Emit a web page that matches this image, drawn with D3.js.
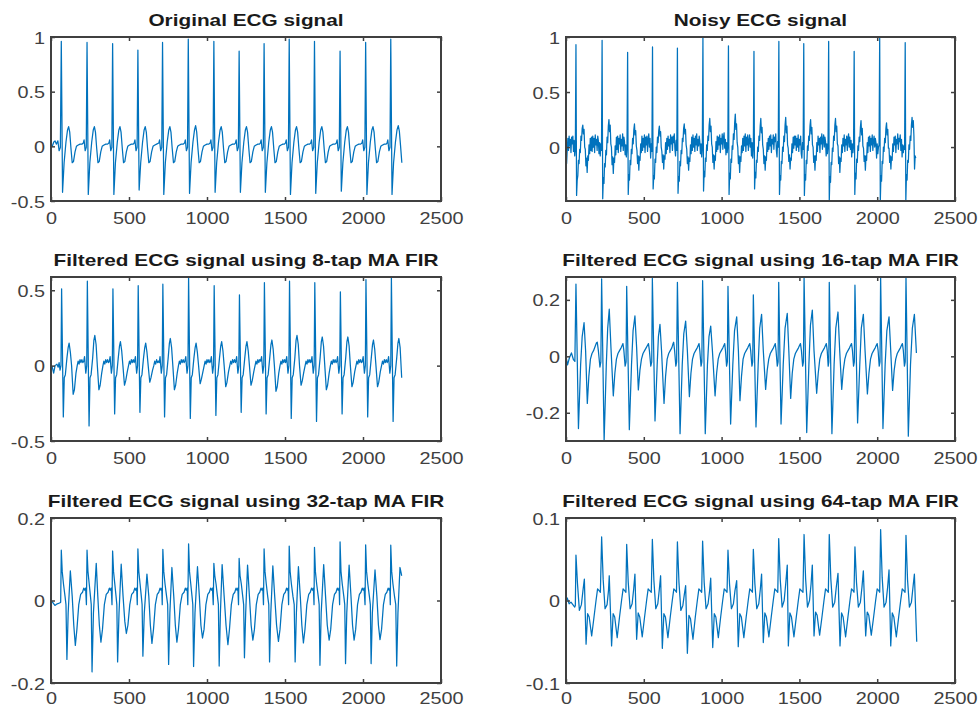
<!DOCTYPE html>
<html>
<head>
<meta charset="utf-8">
<script src="https://cdn.jsdelivr.net/npm/d3@7"></script>
<style>
  body { margin: 0; background: #fff; }
  #chart { width: 978px; height: 708px; }
</style>
</head>
<body>
<div id="chart"></div>
<script>
// ---- data (x = sample index, y = amplitude) ----
const xTicks = [0, 500, 1000, 1500, 2000, 2500];

const titles = [
  'Original ECG signal',
  'Noisy ECG signal',
  'Filtered ECG signal using 8-tap MA FIR',
  'Filtered ECG signal using 16-tap MA FIR',
  'Filtered ECG signal using 32-tap MA FIR',
  'Filtered ECG signal using 64-tap MA FIR'
];

const yDomains = [[-0.5, 1], [-0.49, 1.0], [-0.5, 0.588], [-0.30, 0.281], [-0.2, 0.2], [-0.1, 0.1]];
const yTicks = [[-0.5, 0, 0.5, 1], [0, 0.5, 1], [-0.5, 0, 0.5], [-0.2, 0, 0.2], [-0.2, 0, 0.2], [-0.1, 0, 0.1]];

const originalEcg = [
  [0,0],[8,0],[18,.04],[26,.05],[34,.02],[44,.05],[52,-.04],[60,-.01],
  [66,.96],[74,-.42],[84,-.15],[96,.04],[106,.15],[113,.18],[120,.13],[128,-.02],[136,-.15],[144,-.14],[154,-.05],[163,0],[172,.01],[186,.02],[198,.02],
  [207,.03],[212,.06],[219,-.04],[226,-.01],
  [231,.95],[239,-.44],[249,-.15],[261,.04],[271,.15],[278,.18],[285,.13],[293,-.02],[301,-.15],[309,-.14],[319,-.05],[328,0],[337,.01],[351,.02],[363,.02],
  [371,.03],[376,.06],[383,-.04],[390,-.01],
  [395,.94],[403,-.44],[413,-.15],[425,.04],[435,.15],[442,.18],[449,.13],[457,-.02],[465,-.15],[473,-.14],[483,-.05],[492,0],[501,.01],[515,.02],[527,.02],
  [533,.03],[538,.06],[545,-.04],[552,-.01],
  [557,.88],[565,-.40],[575,-.15],[587,.04],[597,.15],[604,.18],[611,.13],[619,-.02],[627,-.15],[635,-.14],[645,-.05],[654,0],[663,.01],[677,.02],
  [691,.03],[696,.06],[703,-.04],[710,-.01],
  [715,.95],[723,-.44],[733,-.15],[745,.04],[755,.15],[762,.18],[769,.13],[777,-.02],[785,-.15],[793,-.14],[803,-.05],[812,0],[821,.01],[835,.02],[847,.02],
  [856,.03],[861,.06],[868,-.04],[875,-.01],
  [880,.98],[888,-.43],[898,-.15],[910,.04],[920,.15],[927,.19],[934,.13],[942,-.02],[950,-.15],[958,-.14],[968,-.05],[977,0],[986,.01],[1000,.02],[1012,.02],
  [1020,.03],[1025,.06],[1032,-.04],[1039,-.01],
  [1044,.96],[1052,-.42],[1062,-.15],[1074,.04],[1084,.15],[1091,.18],[1098,.13],[1106,-.02],[1114,-.15],[1122,-.14],[1132,-.05],[1141,0],[1150,.01],[1164,.02],[1176,.02],
  [1182,.03],[1187,.06],[1194,-.04],[1201,-.01],
  [1206,.87],[1214,-.42],[1224,-.15],[1236,.04],[1246,.15],[1253,.18],[1260,.13],[1268,-.02],[1276,-.15],[1284,-.14],[1294,-.05],[1303,0],[1312,.01],[1326,.02],[1336,.02],
  [1342,.03],[1347,.06],[1354,-.04],[1361,-.01],
  [1366,.94],[1374,-.42],[1384,-.15],[1396,.04],[1406,.15],[1413,.18],[1420,.13],[1428,-.02],[1436,-.15],[1444,-.14],[1454,-.05],[1463,0],[1472,.01],[1486,.02],[1496,.02],
  [1503,.03],[1508,.06],[1515,-.04],[1522,-.01],
  [1527,.98],[1535,-.44],[1545,-.15],[1557,.04],[1567,.15],[1574,.18],[1581,.13],[1589,-.02],[1597,-.15],[1605,-.14],[1615,-.05],[1624,0],[1633,.01],[1647,.02],[1658,.02],
  [1665,.03],[1670,.06],[1677,-.04],[1684,-.01],
  [1689,.96],[1697,-.43],[1707,-.15],[1719,.04],[1729,.15],[1736,.18],[1743,.13],[1751,-.02],[1759,-.15],[1767,-.14],[1777,-.05],[1786,0],[1795,.01],[1809,.02],[1821,.02],
  [1829,.03],[1834,.06],[1841,-.04],[1848,-.01],
  [1853,.87],[1861,-.41],[1871,-.15],[1883,.04],[1893,.15],[1900,.18],[1907,.13],[1915,-.02],[1923,-.15],[1931,-.14],[1941,-.05],[1950,0],[1959,.01],[1973,.02],[1985,.02],
  [1993,.03],[1998,.06],[2005,-.04],[2012,-.01],
  [2017,.95],[2025,-.44],[2035,-.15],[2047,.04],[2057,.15],[2064,.18],[2071,.13],[2079,-.02],[2087,-.15],[2095,-.14],[2105,-.05],[2114,0],[2123,.01],[2137,.02],[2148,.02],
  [2154,.03],[2159,.06],[2166,-.04],[2173,-.01],
  [2178,.98],[2186,-.44],[2196,-.15],[2208,.04],[2218,.15],[2226,.19],[2233,.14],[2241,0],[2249,-.15]
];

// noisy signal, one value every 4 samples (one row per beat)
const noisyStep = 4;
const noisyEcg = [
  .02,-.15,-.02,.08,-.03,.1,.01,.07,-.05,.09,.03,.1,-.04,.06,-.08,-.02,
  .93,-.44,-.3,-.26,-.12,-.15,-.02,-.05,.1,.06,.17,.2,.12,.16,0,-.02,-.17,-.1,-.23,-.08,-.12,.02,-.06,.08,-.03,.09,-.04,.1,0,.08,-.05,.11,.02,.07,-.03,.1,.06,-.06,.04,-.08,.03,-.03,
  .97,-.47,-.28,-.33,-.15,-.18,-.03,-.07,.09,.04,.19,.25,.14,.2,.03,0,-.16,-.09,-.24,-.1,-.14,.01,-.07,.09,-.02,.1,-.05,.08,.03,.11,-.04,.07,.01,.12,-.03,.09,.05,-.07,.02,-.09,.01,
  .86,-.43,-.25,-.3,-.12,-.16,-.02,-.06,.08,.03,.16,.21,.11,.15,.01,-.03,-.15,-.08,-.21,-.09,-.12,.03,-.05,.1,-.03,.08,0,.11,-.05,.09,.02,.1,-.04,.07,.12,0,.08,-.1,.03,-.04,
  .91,-.38,-.26,-.29,-.11,-.14,0,-.05,.09,.04,.15,.19,.1,.14,0,-.04,-.14,-.07,-.2,-.08,-.11,.04,-.06,.08,-.02,.1,.01,.07,-.05,.11,.03,.09,-.03,.1,.04,.12,-.02,-.08,.06,-.03,
  .9,-.42,-.27,-.31,-.13,-.17,-.03,-.06,.08,.05,.17,.21,.12,.16,.02,-.02,-.15,-.09,-.21,-.1,-.13,.02,-.06,.09,-.03,.11,0,.08,-.04,.1,.02,.12,-.03,.07,.01,.1,.05,-.06,.03,-.09,0,
  1.0,-.4,-.22,-.27,-.1,-.13,.02,-.03,.1,.06,.2,.26,.14,.19,.03,0,-.14,-.07,-.2,-.08,-.12,.05,-.04,.1,-.02,.09,.02,.11,-.05,.08,.03,.12,-.02,.09,.13,-.01,.07,-.07,.04,-.05,.01,
  .92,-.43,-.24,-.29,-.11,-.14,.01,-.02,.12,.07,.22,.3,.16,.21,.04,0,-.15,-.08,-.23,-.09,-.13,.01,-.05,.08,-.03,.1,.01,.12,-.04,.09,.02,.11,-.03,.06,.11,0,.08,-.08,.04,-.1,.01,
  .87,-.38,-.23,-.28,-.12,-.14,0,-.04,.1,.06,.19,.26,.13,.18,.02,-.02,-.15,-.08,-.21,-.09,-.12,.04,-.04,.08,-.02,.1,.01,.11,-.05,.07,.03,.11,-.02,.09,.05,.12,-.03,-.09,.05,0,
  .96,-.43,-.26,-.3,-.13,-.15,0,-.04,.1,.05,.2,.27,.13,.19,.02,-.01,-.13,-.07,-.2,-.1,-.12,.03,-.05,.09,-.01,.1,.02,.1,-.03,.08,0,.11,-.04,.07,.02,.1,-.06,-.1,.04,-.02,
  .94,-.44,-.25,-.3,-.12,-.15,.01,-.03,.1,.06,.19,.25,.12,.18,.02,0,-.14,-.08,-.21,-.08,-.12,.04,-.04,.1,.02,.08,-.05,.09,.03,.12,-.02,.07,.11,0,.09,.05,-.08,.03,-.06,.01,
  .96,-.49,-.27,-.32,-.14,-.16,-.01,-.04,.1,.06,.2,.26,.14,.19,.03,.01,-.15,-.09,-.23,-.1,-.13,.02,-.05,.08,.01,.11,-.04,.07,.02,.1,-.03,.08,.12,0,.09,-.02,.06,-.09,.03,-.05,.01,
  .87,-.43,-.24,-.29,-.11,-.14,.01,-.03,.09,.05,.18,.24,.11,.17,.01,-.01,-.13,-.08,-.21,-.08,-.12,.04,-.05,.09,.01,.1,-.04,.08,.02,.11,-.03,.06,.1,0,.08,.04,-.1,.03,-.06,0,.02,
  1.0,-.49,-.26,-.31,-.13,-.15,0,-.04,.08,.04,.17,.22,.11,.16,-.01,-.01,-.14,-.08,-.2,-.09,-.12,.03,-.04,.09,.02,.1,-.05,.07,.03,.12,-.02,.08,.05,.11,-.03,.07,-.09,.02,-.05,.01,-.02,
  .95,-.49,-.25,-.3,-.12,-.14,.02,-.02,.1,.06,.2,.27,.18,.24,.1,-.2,-.08,-.1
];

const ma8Ecg = [
  [0,0],[8,-.01],[17,-.05],[26,0],[38,.01],[46,-.01],[52,.02],[58,-.03],[64,0],
  [68,.51],[79,-.34],[85,-.08],[92,-.06],[102,.05],[110,.12],[116,.15],[124,.09],[132,0],[142,-.19],[150,-.16],[160,-.05],[168,0],[174,.03],[180,.01],[186,.04],[192,.02],[198,.04],[204,.02],[210,.03],[215,.06],[223,-.05],[229,0],
  [233,.56],[244,-.40],[250,-.08],[257,-.06],[267,.05],[275,.17],[281,.20],[289,.14],[297,0],[307,-.16],[315,-.13],[325,-.05],[333,0],[339,.03],[345,.01],[351,.04],[357,.02],[363,.04],[369,.02],[374,.03],[379,.06],[387,-.05],[393,0],
  [397,.51],[408,-.32],[414,-.08],[421,-.06],[431,.05],[439,.13],[445,.16],[453,.10],[461,0],[471,-.13],[479,-.10],[489,-.04],[497,0],[503,.03],[509,.01],[515,.04],[521,.02],[527,.04],[533,.02],[536,.03],[541,.06],[549,-.05],[555,0],
  [559,.53],[570,-.31],[576,-.08],[583,-.06],[593,.05],[601,.12],[607,.15],[615,.09],[623,0],[633,-.11],[641,-.08],[651,-.03],[659,0],[665,.03],[671,.01],[677,.04],[683,.02],[689,.03],[694,.02],[699,.06],[707,-.05],[713,0],
  [717,.54],[728,-.34],[734,-.08],[741,-.06],[751,.05],[759,.15],[765,.18],[773,.12],[781,0],[791,-.16],[799,-.13],[809,-.05],[817,0],[823,.03],[829,.01],[835,.04],[841,.02],[847,.04],[853,.02],[858,.03],[864,.06],[872,-.05],[878,0],
  [882,.588],[893,-.35],[899,-.08],[906,-.06],[916,.05],[924,.12],[930,.15],[938,.09],[946,0],[956,-.12],[964,-.09],[974,-.04],[982,0],[988,.03],[994,.01],[1000,.04],[1006,.02],[1012,.04],[1018,.02],[1023,.03],[1028,.06],[1036,-.05],[1042,0],
  [1046,.53],[1057,-.33],[1063,-.08],[1070,-.06],[1080,.05],[1088,.13],[1094,.16],[1102,.10],[1110,0],[1120,-.14],[1128,-.11],[1138,-.04],[1146,0],[1152,.03],[1158,.01],[1164,.04],[1170,.02],[1176,.04],[1182,.02],[1185,.03],[1190,.06],[1198,-.05],[1204,0],
  [1208,.47],[1219,-.31],[1225,-.08],[1232,-.06],[1242,.05],[1250,.13],[1256,.16],[1264,.10],[1272,0],[1282,-.13],[1290,-.10],[1300,-.04],[1308,0],[1314,.03],[1320,.01],[1326,.04],[1332,.02],[1338,.04],[1344,.03],[1350,.06],[1358,-.05],[1364,0],
  [1368,.55],[1379,-.32],[1385,-.08],[1392,-.06],[1402,.05],[1410,.14],[1416,.17],[1424,.11],[1432,0],[1442,-.17],[1450,-.14],[1460,-.05],[1468,0],[1474,.03],[1480,.01],[1486,.04],[1492,.02],[1498,.04],[1504,.02],[1511,.06],[1519,-.05],[1525,0],
  [1529,.56],[1540,-.35],[1546,-.08],[1553,-.06],[1563,.05],[1571,.17],[1577,.20],[1585,.14],[1593,0],[1603,-.13],[1611,-.10],[1621,-.04],[1629,0],[1635,.03],[1641,.01],[1647,.04],[1653,.02],[1659,.04],[1665,.02],[1668,.03],[1673,.06],[1681,-.05],[1687,0],
  [1691,.55],[1702,-.37],[1708,-.08],[1715,-.06],[1725,.05],[1733,.16],[1739,.19],[1747,.13],[1755,0],[1765,-.16],[1773,-.13],[1783,-.05],[1791,0],[1797,.03],[1803,.01],[1809,.04],[1815,.02],[1821,.04],[1827,.02],[1832,.03],[1837,.06],[1845,-.05],[1851,0],
  [1855,.49],[1866,-.32],[1872,-.08],[1879,-.06],[1889,.05],[1897,.16],[1903,.19],[1911,.13],[1919,0],[1929,-.14],[1937,-.11],[1947,-.04],[1955,0],[1961,.03],[1967,.01],[1973,.04],[1979,.02],[1985,.04],[1991,.02],[1996,.03],[2001,.06],[2009,-.05],[2015,0],
  [2019,.57],[2030,-.34],[2036,-.08],[2043,-.06],[2053,.05],[2061,.14],[2067,.17],[2075,.11],[2083,0],[2093,-.14],[2101,-.11],[2111,-.04],[2119,0],[2125,.03],[2131,.01],[2137,.04],[2143,.02],[2149,.04],[2155,.02],[2159,.03],[2164,.06],[2172,-.05],[2178,0],
  [2182,.585],[2193,-.37],[2199,-.08],[2206,-.06],[2216,.05],[2224,.15],[2230,.18],[2238,.12],[2248,-.08]
];

const ma16Ecg = [
  [0,0],[10,-.03],[22,-.005],[35,.012],[48,-.012],[57,-.018],
  [64,.256],[80,-.256],[94,-.03],[104,.07],[116,.119],[126,.02],[137,-.167],[147,-.07],[157,-.01],[167,.01],[177,.02],[187,.035],[196,.048],[201,.05],[208,.02],[218,-.038],[224,-.02],
  [229,.274],[245,-.30],[259,-.03],[268,.1],[278,.167],[289,.03],[304,-.14],[314,-.06],[324,-.01],[334,.01],[344,.02],[354,.03],[362,.04],[366,.045],[372,.02],[380,-.035],[386,-.02],
  [390,.248],[407,-.26],[421,-.03],[431,.09],[443,.143],[454,.03],[465,-.119],[475,-.05],[485,-.01],[495,.01],[505,.02],[515,.03],[525,.04],[530,.045],[536,.02],[545,-.035],[551,-.02],
  [555,.276],[572,-.229],[586,-.03],[594,.07],[604,.113],[614,.02],[630,-.167],[640,-.07],[650,-.01],[660,.01],[670,.02],[680,.03],[688,.045],[692,.05],[698,.02],[706,-.035],[711,-.02],
  [716,.262],[733,-.274],[747,-.03],[757,.08],[769,.125],[780,.02],[793,-.143],[803,-.06],[813,-.01],[823,.01],[833,.02],[843,.03],[851,.04],[855,.045],[860,.02],[868,-.035],[873,-.02],
  [878,.268],[895,-.274],[909,-.03],[919,.07],[930,.107],[941,.02],[958,-.14],[968,-.06],[978,-.01],[988,.01],[998,.02],[1008,.03],[1016,.04],[1020,.045],[1025,.02],[1032,-.035],[1037,-.02],
  [1041,.248],[1058,-.24],[1072,-.03],[1083,.09],[1097,.14],[1108,.02],[1118,-.157],[1128,-.07],[1138,-.01],[1148,.01],[1158,.02],[1168,.03],[1176,.04],[1181,.045],[1187,.02],[1195,-.035],[1200,-.02],
  [1204,.218],[1221,-.25],[1235,-.03],[1245,.1],[1257,.149],[1268,.02],[1283,-.117],[1293,-.05],[1303,-.01],[1313,.01],[1323,.02],[1333,.03],[1341,.04],[1345,.045],[1350,.02],[1358,-.035],[1363,-.02],
  [1367,.262],[1382,-.24],[1396,-.03],[1408,.1],[1422,.152],[1432,.02],[1444,-.149],[1454,-.06],[1464,-.01],[1474,.01],[1484,.02],[1494,.03],[1502,.04],[1507,.045],[1513,.02],[1521,-.035],[1526,-.02],
  [1530,.281],[1547,-.27],[1561,-.03],[1571,.11],[1583,.164],[1594,.02],[1611,-.131],[1621,-.06],[1631,-.01],[1641,.01],[1651,.02],[1661,.03],[1669,.04],[1673,.045],[1679,.02],[1685,-.035],[1689,-.02],
  [1692,.262],[1709,-.274],[1723,-.03],[1734,.1],[1748,.157],[1759,.02],[1772,-.117],[1782,-.05],[1792,-.01],[1802,.01],[1812,.02],[1822,.03],[1830,.04],[1835,.045],[1841,.02],[1848,-.035],[1853,-.02],
  [1857,.252],[1874,-.236],[1888,-.03],[1898,.1],[1911,.149],[1922,.02],[1937,-.133],[1947,-.06],[1957,-.01],[1967,.01],[1977,.02],[1987,.03],[1995,.04],[2000,.045],[2006,.02],[2013,-.035],[2018,-.02],
  [2022,.281],[2037,-.256],[2051,-.03],[2062,.09],[2076,.14],[2087,.02],[2099,-.121],[2109,-.05],[2119,-.01],[2129,.01],[2139,.02],[2149,.03],[2157,.04],[2162,.045],[2168,.02],[2175,-.035],[2180,-.02],
  [2185,.281],[2200,-.283],[2214,-.03],[2226,.1],[2239,.149],[2252,.012]
];

const ma32Ecg = [
  [0,0],[12,-.005],[25,-.012],[40,-.008],[55,-.006],[62,-.004],
  [66,.122],[72,.07],[80,.04],[90,.01],[96,-.01],[102,-.143],[110,-.03],[124,.072],[136,.01],[146,-.06],[156,-.109],[166,-.07],[178,-.01],[190,.015],[202,.02],[210,.03],[216,.025],[222,.03],[227,-.01],
  [231,.122],[237,.07],[245,.04],[253,.01],[258,-.01],[263,-.173],[272,-.03],[290,.09],[300,.01],[310,-.06],[320,-.101],[330,-.07],[342,-.01],[354,.015],[366,.02],[374,.03],[380,.025],[386,.03],[391,-.01],
  [395,.12],[401,.07],[409,.04],[417,.01],[422,-.01],[427,-.149],[436,-.03],[450,.088],[462,.01],[473,-.05],[483,-.08],[493,-.06],[505,-.01],[517,.015],[529,.02],[537,.03],[543,.025],[549,.03],[553,-.01],
  [557,.125],[563,.07],[571,.04],[579,.01],[584,-.01],[589,-.135],[598,-.03],[615,.064],[627,.01],[637,-.06],[647,-.104],[657,-.07],[669,-.01],[681,.015],[691,.02],[699,.03],[705,.025],[710,.03],[713,-.01],
  [717,.124],[723,.07],[731,.04],[741,.01],[748,-.01],[754,-.155],[762,-.03],[775,.08],[787,.01],[797,-.06],[807,-.101],[817,-.07],[829,-.01],[841,.015],[853,.02],[861,.03],[867,.025],[873,.03],[877,-.01],
  [882,.137],[888,.07],[896,.04],[904,.01],[909,-.01],[914,-.16],[923,-.03],[939,.082],[951,.01],[961,-.06],[971,-.091],[981,-.07],[993,-.01],[1005,.015],[1015,.02],[1023,.03],[1029,.025],[1035,.03],[1040,-.01],
  [1044,.09],[1050,.06],[1058,.04],[1067,.01],[1073,-.01],[1078,-.159],[1086,-.03],[1097,.087],[1110,.01],[1122,-.06],[1134,-.107],[1144,-.07],[1156,-.01],[1168,.015],[1178,.02],[1186,.03],[1192,.025],[1198,.03],[1202,-.01],
  [1206,.102],[1212,.06],[1220,.04],[1229,.01],[1235,-.01],[1240,-.139],[1248,-.03],[1260,.086],[1272,.01],[1283,-.06],[1294,-.096],[1304,-.07],[1316,-.01],[1328,.015],[1338,.02],[1346,.03],[1352,.025],[1358,.03],[1362,-.01],
  [1366,.125],[1372,.07],[1380,.04],[1389,.01],[1396,-.01],[1401,-.149],[1409,-.03],[1422,.084],[1434,.01],[1446,-.06],[1458,-.099],[1468,-.07],[1480,-.01],[1492,.015],[1502,.02],[1510,.03],[1515,.025],[1520,.03],[1523,-.01],
  [1527,.132],[1533,.07],[1541,.04],[1551,.01],[1559,-.01],[1565,-.149],[1573,-.03],[1586,.082],[1598,.01],[1608,-.06],[1618,-.103],[1628,-.07],[1640,-.01],[1652,.015],[1662,.02],[1670,.03],[1676,.025],[1682,.03],[1686,-.01],
  [1689,.129],[1695,.07],[1703,.04],[1713,.01],[1719,-.01],[1724,-.157],[1732,-.03],[1748,.087],[1760,.01],[1771,-.06],[1783,-.096],[1793,-.07],[1805,-.01],[1817,.015],[1827,.02],[1835,.03],[1841,.025],[1847,.03],[1850,-.01],
  [1853,.142],[1859,.07],[1867,.04],[1877,.01],[1883,-.01],[1888,-.153],[1896,-.03],[1911,.086],[1923,.01],[1933,-.06],[1943,-.096],[1953,-.07],[1965,-.01],[1977,.015],[1987,.02],[1995,.03],[2001,.025],[2007,.03],[2013,-.01],
  [2017,.135],[2023,.07],[2031,.04],[2041,.01],[2047,-.01],[2052,-.153],[2060,-.03],[2077,.074],[2089,.01],[2099,-.06],[2109,-.095],[2119,-.07],[2131,-.01],[2143,.015],[2153,.02],[2161,.03],[2167,.025],[2172,.03],[2175,-.01],
  [2178,.134],[2184,.07],[2192,.04],[2202,.01],[2210,-.01],[2216,-.159],[2224,-.03],[2237,.08],[2248,.06]
];

const ma64Ecg = [
  [0,0],[8,.003],[20,-.004],[32,-.002],[44,-.005],[56,-.008],[60,-.006],
  [64,.055],[74,.02],[86,-.012],[99,-.005],[109,.012],[118,.026],[129,-.053],[139,-.016],[149,-.02],[165,-.043],[180,-.02],[193,0],[203,.014],[213,.012],[221,.01],
  [229,.077],[239,.025],[251,-.01],[264,-.005],[273,.012],[278,.03],[293,-.055],[303,-.016],[313,-.02],[329,-.045],[344,-.02],[357,0],[367,.014],[377,.012],[385,.01],
  [390,.068],[400,.022],[412,-.01],[425,-.004],[435,.014],[443,.032],[454,-.047],[464,-.015],[474,-.02],[490,-.044],[505,-.02],[518,0],[528,.014],[538,.012],[548,.01],
  [555,.074],[565,.024],[577,-.01],[590,-.004],[600,.014],[608,.03],[619,-.058],[629,-.016],[639,-.02],[655,-.045],[670,-.02],[683,0],[693,.014],[703,.012],[710,.01],
  [716,.071],[726,.022],[738,-.012],[751,-.006],[761,.008],[769,.018],[780,-.064],[790,-.018],[800,-.022],[816,-.047],[831,-.02],[844,0],[854,.014],[864,.012],[872,.01],
  [878,.072],[888,.022],[900,-.01],[913,-.004],[923,.012],[930,.027],[943,-.057],[953,-.016],[963,-.02],[979,-.045],[994,-.02],[1007,0],[1017,.014],[1027,.012],[1035,.01],
  [1041,.061],[1051,.02],[1063,-.01],[1076,-.004],[1086,.012],[1097,.024],[1107,-.056],[1117,-.016],[1127,-.02],[1143,-.045],[1158,-.02],[1171,0],[1181,.014],[1191,.012],[1198,.01],
  [1204,.062],[1214,.02],[1226,-.01],[1239,-.004],[1249,.014],[1257,.032],[1268,-.051],[1278,-.015],[1288,-.02],[1304,-.044],[1319,-.02],[1332,0],[1342,.014],[1352,.012],[1361,.01],
  [1367,.075],[1377,.025],[1389,-.008],[1402,0],[1412,.02],[1422,.043],[1429,-.055],[1439,-.015],[1449,-.02],[1465,-.044],[1480,-.02],[1493,0],[1503,.014],[1513,.012],[1523,.01],
  [1530,.08],[1540,.026],[1552,-.008],[1565,0],[1575,.02],[1583,.043],[1594,-.043],[1604,-.014],[1614,-.018],[1630,-.042],[1645,-.02],[1658,0],[1668,.014],[1678,.012],[1686,.01],
  [1692,.08],[1702,.026],[1714,-.008],[1727,-.002],[1737,.016],[1748,.033],[1761,-.055],[1771,-.015],[1781,-.02],[1797,-.044],[1812,-.02],[1825,0],[1835,.014],[1845,.012],[1851,.01],
  [1857,.065],[1867,.022],[1879,-.008],[1892,-.002],[1902,.016],[1911,.036],[1926,-.043],[1936,-.014],[1946,-.018],[1962,-.042],[1977,-.02],[1990,0],[2000,.014],[2010,.012],[2016,.01],
  [2022,.086],[2032,.028],[2044,-.008],[2057,-.002],[2067,.016],[2076,.037],[2087,-.055],[2097,-.015],[2107,-.02],[2123,-.044],[2138,-.02],[2151,0],[2161,.014],[2171,.012],[2179,.01],
  [2185,.079],[2195,.025],[2207,-.008],[2220,-.002],[2230,.016],[2239,.032],[2254,-.05]
];

// ---- layout ----
const W = 978, H = 708;
const colX = [[51, 441], [566, 955]];
const rowY = [[37, 201], [277, 441], [518, 683]];
const rowLabelPad = [12, 12, 10];
const lineColor = '#0072BD';
const axisColor = '#404040';
const fontFam = '"Liberation Sans", Arial, Helvetica, sans-serif';
const titleStretch = 1.3, tickStretch = 1.24;

const series = [
  originalEcg,
  noisyEcg.map((v, i) => [i * noisyStep, v]),
  ma8Ecg, ma16Ecg, ma32Ecg, ma64Ecg
];

const svg = d3.select('#chart').append('svg')
  .attr('width', W).attr('height', H)
  .style('background', '#fff');

series.forEach((data, k) => {
  const col = k % 2, row = Math.floor(k / 2);
  const [x0, x1] = colX[col], [y0, y1] = rowY[row];

  const x = d3.scaleLinear().domain([0, 2500]).range([x0, x1]);
  const y = d3.scaleLinear().domain(yDomains[k]).range([y1, y0]);

  const g = svg.append('g');

  g.append('clipPath').attr('id', 'clip' + k)
    .append('rect').attr('x', x0).attr('y', y0).attr('width', x1 - x0).attr('height', y1 - y0);

  const line = d3.line().x(d => x(d[0])).y(d => y(d[1]));
  g.append('path')
    .datum(data)
    .attr('clip-path', `url(#clip${k})`)
    .attr('fill', 'none')
    .attr('stroke', lineColor)
    .attr('stroke-width', 1.25)
    .attr('stroke-linejoin', 'round')
    .attr('d', line);

  // axes (ticks point inwards, like MATLAB)
  const bottom = g.append('g').attr('transform', `translate(0,${y1})`)
    .call(d3.axisBottom(x).tickValues(xTicks).tickSize(-4).tickSizeOuter(0).tickPadding(rowLabelPad[row]).tickFormat(d => String(d)));
  const top = g.append('g').attr('transform', `translate(0,${y0})`)
    .call(d3.axisTop(x).tickValues(xTicks).tickSize(-4).tickSizeOuter(0).tickFormat(''));
  const left = g.append('g').attr('transform', `translate(${x0},0)`)
    .call(d3.axisLeft(y).tickValues(yTicks[k]).tickSize(-4).tickSizeOuter(0).tickPadding(6).tickFormat(d => String(d)));
  const right = g.append('g').attr('transform', `translate(${x1},0)`)
    .call(d3.axisRight(y).tickValues(yTicks[k]).tickSize(-4).tickSizeOuter(0).tickFormat(''));

  [bottom, top, left, right].forEach(a => {
    a.select('.domain').remove();
    a.selectAll('line').attr('stroke', axisColor).attr('stroke-width', 1.5);
    a.selectAll('text')
      .attr('fill', axisColor)
      .style('font-family', fontFam)
      .style('font-size', '16px');
  });
  bottom.selectAll('text').attr('transform', `scale(${tickStretch},1)`);
  left.selectAll('text')
    .attr('x', -6 / tickStretch)
    .attr('dy', '0.38em')
    .attr('transform', `scale(${tickStretch},1)`);

  g.append('rect')
    .attr('x', x0).attr('y', y0)
    .attr('width', x1 - x0).attr('height', y1 - y0)
    .attr('fill', 'none')
    .attr('stroke', axisColor)
    .attr('stroke-width', 2);

  g.append('text')
    .attr('transform', `translate(${(x0 + x1) / 2},${y0 - 11}) scale(${titleStretch},1)`)
    .attr('text-anchor', 'middle')
    .style('font-family', fontFam)
    .style('font-size', '16px')
    .style('font-weight', 'bold')
    .attr('fill', '#1a1a1a')
    .text(titles[k]);
});
</script>
</body>
</html>
